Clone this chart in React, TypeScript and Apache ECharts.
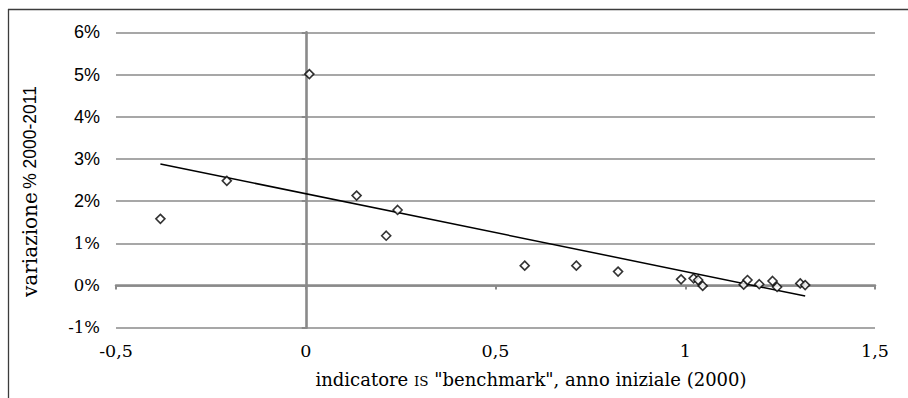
import React, { useEffect, useRef } from "react";
import * as echarts from "echarts";

// Indicatore IS "benchmark" nell'anno iniziale (2000)
const indicator: number[] = [
  -0.383, -0.208, 0.0095, 0.134, 0.242, 0.212, 0.577, 0.713, 0.823,
  0.989, 1.022, 1.034, 1.046, 1.154, 1.164, 1.195, 1.23, 1.242, 1.303, 1.316,
];

// Variazione percentuale 2000-2011
const variation: number[] = [
  1.58, 2.48, 5.01, 2.13, 1.79, 1.18, 0.47, 0.47, 0.33,
  0.146, 0.17, 0.13, -0.01, 0.02, 0.13, 0.03, 0.107, -0.035, 0.05, 0.01,
];

const xTicks = { min: -0.5, max: 1.5, step: 0.5 };
const yTicks = { min: -1, max: 6, step: 1 };

const xTitle = 'indicatore {sc|IS} "benchmark", anno iniziale (2000)';
const yTitleWord = "variazione";
const yTitleRest = "% 2000-2011";

const SERIF = "DejaVu Serif";
const SANS = "Liberation Sans";
const GRID_GREY = "#8a8a8a";

// Least-squares linear trend, drawn across the range of the data
function linearTrend(xs: number[], ys: number[]): number[][] {
  const n = xs.length;
  const mx = xs.reduce((a, b) => a + b, 0) / n;
  const my = ys.reduce((a, b) => a + b, 0) / n;
  let sxy = 0;
  let sxx = 0;
  for (let i = 0; i < n; i++) {
    sxy += (xs[i] - mx) * (ys[i] - my);
    sxx += (xs[i] - mx) * (xs[i] - mx);
  }
  const slope = sxy / sxx;
  const intercept = my - slope * mx;
  const x0 = Math.min(...xs);
  const x1 = Math.max(...xs);
  return [
    [x0, intercept + slope * x0],
    [x1, intercept + slope * x1],
  ];
}

export default function App() {
  const ref = useRef<HTMLDivElement>(null);

  useEffect(() => {
    if (!ref.current) return;
    const chart = echarts.init(ref.current, undefined, { renderer: "svg" });

    const points = indicator.map((x, i) => [x, variation[i]]);
    const trend = linearTrend(indicator, variation);

    const xFmt = (v: number) => String(v).replace(".", ",");

    chart.setOption({
      animation: false,
      backgroundColor: "#ffffff",
      grid: { left: 116, right: 33, top: 32.3, bottom: 70.3, containLabel: false },
      xAxis: [
        {
          type: "value",
          min: xTicks.min,
          max: xTicks.max,
          interval: xTicks.step,
          position: "bottom",
          axisLine: { show: false, onZero: false },
          axisTick: { show: false },
          splitLine: { show: false },
          axisLabel: {
            formatter: xFmt,
            margin: 14,
            color: "#000",
            fontFamily: SERIF,
            fontSize: 17.5,
          },
        },
        {
          type: "value",
          min: xTicks.min,
          max: xTicks.max,
          interval: xTicks.step,
          position: "bottom",
          axisLine: {
            show: true,
            onZero: true,
            onZeroAxisIndex: 0,
            lineStyle: { color: GRID_GREY, width: 2.5 },
          },
          axisTick: { show: true, length: 4, lineStyle: { color: GRID_GREY, width: 2 } },
          axisLabel: { show: false },
          splitLine: { show: false },
        },
      ],
      yAxis: [
        {
          type: "value",
          min: yTicks.min,
          max: yTicks.max,
          interval: yTicks.step,
          position: "left",
          axisLine: { show: false, onZero: false },
          axisTick: { show: false },
          splitLine: { show: true, lineStyle: { color: GRID_GREY, width: 1.7 } },
          axisLabel: {
            margin: 16,
            color: "#000",
            fontFamily: SANS,
            fontSize: 18,
            formatter: (v: number) => (v >= 2 ? `${v}%` : `{r|${v}%}`),
            rich: {
              r: { fontFamily: SERIF, fontSize: 16.5, color: "#000" },
            },
          },
        },
        {
          type: "value",
          min: yTicks.min,
          max: yTicks.max,
          interval: yTicks.step,
          position: "left",
          axisLine: {
            show: true,
            onZero: true,
            onZeroAxisIndex: 0,
            lineStyle: { color: GRID_GREY, width: 2.6 },
          },
          axisTick: { show: true, length: 4, lineStyle: { color: GRID_GREY, width: 2 } },
          axisLabel: { show: false },
          splitLine: { show: false },
        },
      ],
      graphic: [
        {
          type: "line",
          silent: true,
          shape: { x1: 8, y1: 9.5, x2: 908, y2: 9.5 },
          style: { stroke: "#3c3c3c", lineWidth: 1.3 },
        },
        {
          type: "line",
          silent: true,
          shape: { x1: 8.5, y1: 9, x2: 8.5, y2: 398 },
          style: { stroke: "#3c3c3c", lineWidth: 1.3 },
        },
        {
          type: "text",
          silent: true,
          x: 531,
          y: 379.5,
          style: {
            text: xTitle,
            fontFamily: SERIF,
            fontSize: 18,
            fill: "#000",
            align: "center",
            verticalAlign: "middle",
            rich: {
              sc: {
                fontFamily: SERIF,
                fontSize: 13.5,
                padding: [3, 0, 0, 0],
                fill: "#000",
              },
            },
          },
        },
        {
          type: "text",
          silent: true,
          x: 30,
          y: 191.5,
          rotation: Math.PI / 2,
          style: {
            text: `{a|${yTitleWord}} {b|${yTitleRest}}`,
            fill: "#000",
            align: "center",
            verticalAlign: "middle",
            rich: {
              a: { fontFamily: SERIF, fontSize: 20, fill: "#000" },
              b: { fontFamily: SANS, fontSize: 17.5, fill: "#000" },
            },
          },
        },
      ],
      series: [
        {
          name: "trend",
          type: "line",
          xAxisIndex: 0,
          yAxisIndex: 0,
          data: trend,
          symbol: "none",
          lineStyle: { color: "#000", width: 1.5 },
          z: 3,
        },
        {
          name: "regioni",
          type: "scatter",
          xAxisIndex: 0,
          yAxisIndex: 0,
          data: points,
          symbol: "diamond",
          symbolSize: 9,
          itemStyle: { color: "#fff", borderColor: "#000", borderWidth: 1.6 },
          z: 4,
        },
      ],
    });

    return () => chart.dispose();
  }, []);

  return (
    <div
      ref={ref}
      style={{ position: "absolute", left: 0, top: 0, width: 908, height: 398 }}
    />
  );
}
